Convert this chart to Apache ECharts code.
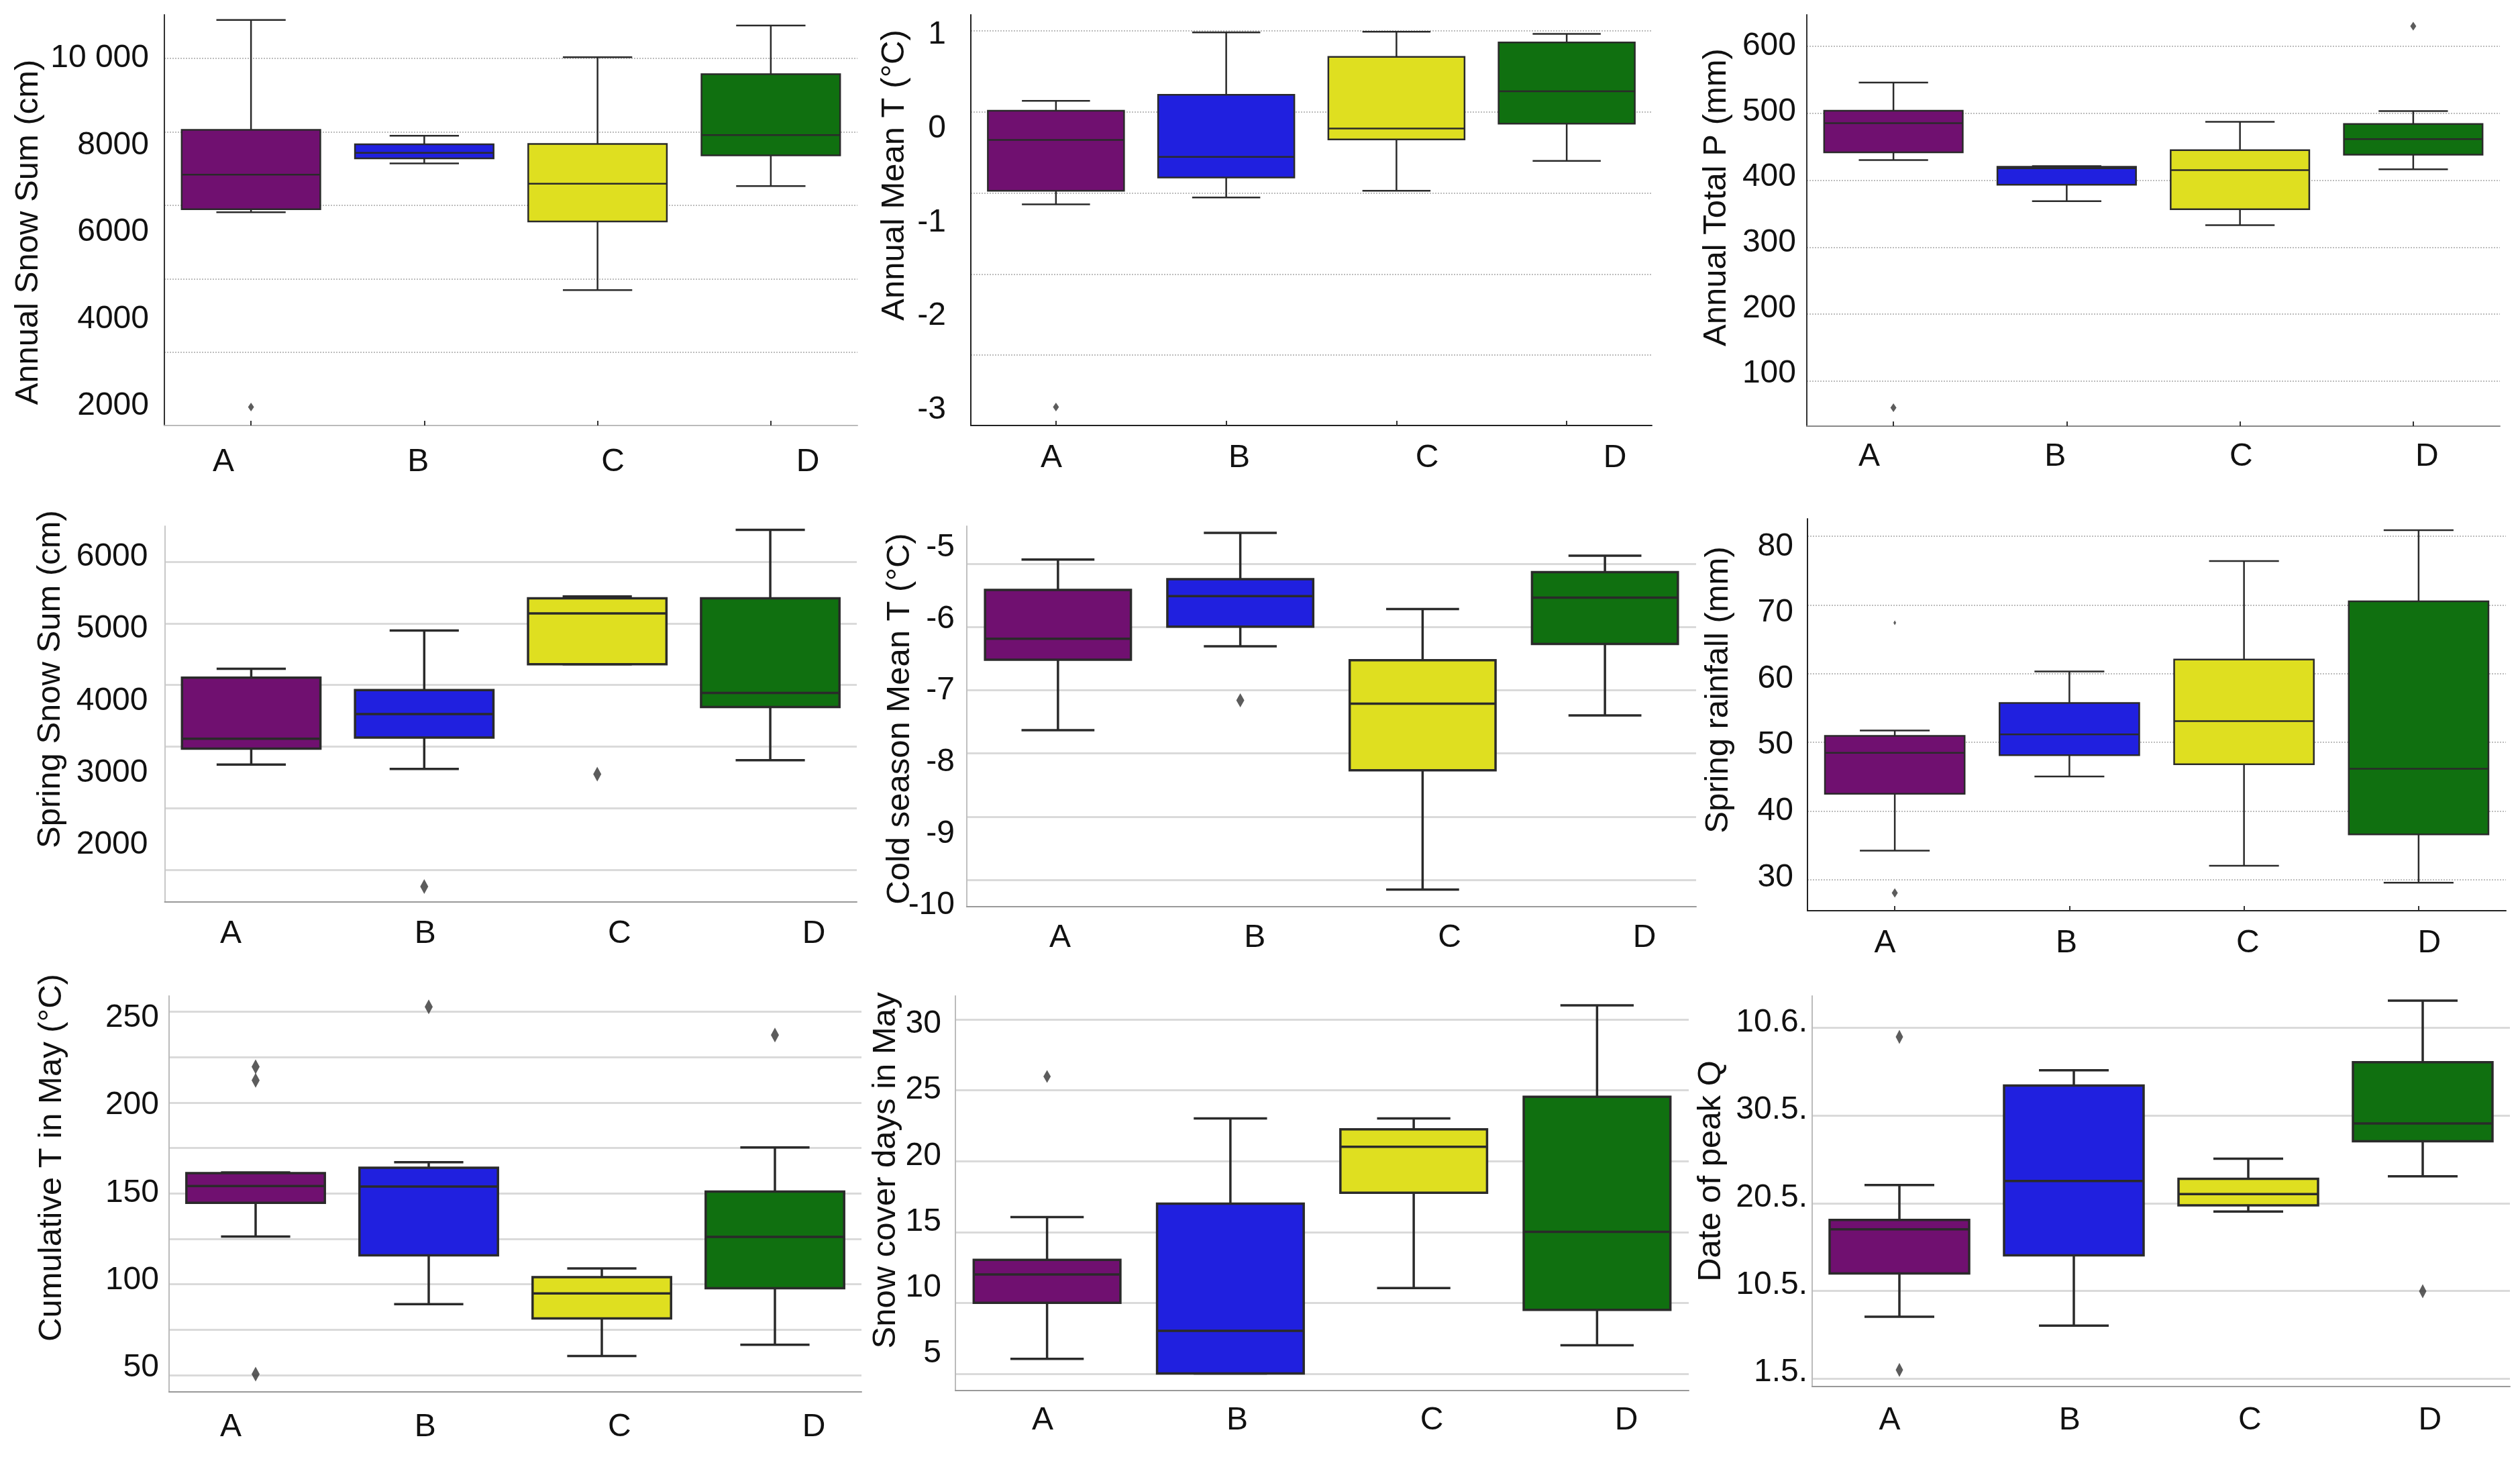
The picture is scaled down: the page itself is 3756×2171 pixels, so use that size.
<!DOCTYPE html>
<html>
<head>
<meta charset="utf-8">
<script src="https://cdn.jsdelivr.net/npm/echarts@6/dist/echarts.min.js"></script>
<style>
html, body { margin: 0; padding: 0; background: #fff; }
#chart { width: 3756px; height: 2171px; }
</style>
</head>
<body>
<div id="chart"></div>
<script>
var categories = ['A', 'B', 'C', 'D'];

// each box: [low whisker, q1, median, q3, high whisker]; outliers: [category index, value]
var snowSumBox = [[6460, 6531, 7324, 8357, 10885], [7586, 7699, 7827, 8025, 8223], [4669, 6248, 7119, 8032, 10028], [7062, 7770, 8237, 9639, 10757]];
var snowSumOut = [[0, 1979]];
var snowSumTicks = [2000, 4000, 6000, 8000, 10000];

var meanTBox = [[-0.807, -0.662, -0.121, 0.19, 0.295], [-0.734, -0.521, -0.302, 0.361, 1.026], [-0.662, -0.115, 0.0, 0.764, 1.033], [-0.344, 0.052, 0.397, 0.918, 1.01]];
var meanTOut = [[0, -2.967]];
var meanTTicks = [-3, -2, -1, 0, 1];

var totalPBox = [[426.3, 438, 482.6, 501.4, 544.6], [363.4, 388.7, 413.7, 416, 417], [326.8, 351.2, 410.8, 441.3, 484.5], [412.2, 434.3, 458.2, 481.2, 501]];
var totalPOut = [[0, 48.4], [3, 630.5]];
var totalPTicks = [100, 200, 300, 400, 500, 600];

var springSnowBox = [[3117, 3339, 3476, 4323, 4447], [3057, 3493, 3818, 4152, 4978], [4511, 4511, 5217, 5427, 5452], [3177, 3917, 4113, 5427, 6376]];
var springSnowOut = [[1, 1423], [2, 2984]];
var springSnowTicks = [2000, 3000, 4000, 5000, 6000];

var coldTBox = [[-7.552, -6.565, -6.272, -5.59, -5.164], [-6.379, -6.103, -5.677, -5.44, -4.793], [-9.78, -8.112, -7.181, -6.573, -5.858], [-7.345, -6.345, -5.698, -5.34, -5.112]];
var coldTOut = [[1, -7.134]];
var coldTTicks = [-10, -9, -8, -7, -6, -5];

var rainBox = [[34.05, 42.65, 48.84, 51.4, 52.19], [45.26, 48.47, 51.63, 56.37, 61.12], [31.77, 47.12, 53.63, 62.93, 77.81], [29.21, 36.51, 46.42, 71.72, 82.47]];
var rainOut = [[0, 27.67]];
var rainTinyOut = [[0, 68.47]];
var rainTicks = [30, 40, 50, 60, 70, 80];

var cumTBox = [[125, 144.3, 153.9, 161.25, 161.6], [86.4, 114.3, 153.6, 164.3, 167.5], [56.8, 78.2, 92.5, 101.8, 106.8], [63.2, 95.5, 124.8, 150.7, 175.9]];
var cumTOut = [[0, 222], [0, 214.3], [0, 46.4], [1, 256.25], [3, 240.2]];
var cumTTicks = [50, 100, 150, 200, 250];

var snowDaysBox = [[4.6, 8.86, 11.0, 12.11, 15.36], [3.5, 3.5, 6.73, 16.37, 22.84], [9.98, 17.2, 20.69, 22.01, 22.84], [5.64, 8.32, 14.24, 24.48, 31.42]];
var snowDaysOut = [[0, 26.02]];
var snowDaysTicks = [5, 10, 15, 20, 25, 30];

// days counted so that the five date ticks sit 10 apart
var peakQBox = [[6.36, 11.32, 16.36, 17.43, 21.43], [5.36, 13.39, 21.89, 32.79, 34.54], [18.39, 19.11, 20.39, 22.14, 24.43], [22.43, 26.43, 28.46, 35.46, 42.5]];
var peakQOut = [[0, 38.36], [0, 0.29], [3, 9.29]];
var peakQTicks = [0, 10, 20, 30, 40];
var peakQLabels = ['1.5.', '10.5.', '20.5.', '30.5.', '10.6.'];

var FONT = "'Liberation Sans', Arial, sans-serif";
var boxColors = ['#701070', '#2020df', '#dfdf20', '#107010'];
var edge = '#2a2a2a';

var panels = [
	{box: snowSumBox, out: snowSumOut, ticks: snowSumTicks, title: 'Annual Snow Sum (cm)',
	 fmt: function(v){ return v == 10000 ? '10 000' : String(v); },
	 min: 1554, max: 11005, rect: [245, 22, 1278, 634], lines: [87, 525, 4], dotted: true, margin: 23,
	 xLab: [333, 1204, 689], titlePos: [42, 346], lw: 2.5, sym: [9, 13], yLine: '#333', xLine: '#bbb', xTicks: true},
	{box: meanTBox, out: meanTOut, ticks: meanTTicks, title: 'Annual Mean T (°C)',
	 min: -3.164, max: 1.213, rect: [1447, 22, 2462, 634], lines: [46, 529, 4], dotted: true, margin: 37,
	 xLab: [1567, 2407, 683], titlePos: [1333, 261], lw: 2.5, sym: [9, 13], yLine: '#222', xLine: '#222', xTicks: true},
	{box: totalPBox, out: totalPOut, ticks: totalPTicks, title: 'Annual Total P (mm)',
	 min: 20.2, max: 647.9, rect: [2693, 22, 3726, 635], lines: [69, 568, 5], dotted: true, margin: 16,
	 xLab: [2802, 3729, 681], titlePos: [2558, 294], lw: 2.5, sym: [9, 13], yLine: '#333', xLine: '#888', xTicks: true},
	{box: springSnowBox, out: springSnowOut, ticks: springSnowTicks, title: 'Spring Snow Sum (cm)',
	 min: 1209, max: 6428, rect: [245.5, 784, 1277, 1344], lines: [837, 1296, 5], dotted: false, margin: 25,
	 xLab: [344, 1213, 1392], titlePos: [75, 1012], lw: 3.5, sym: [12, 22], yLine: '#c8c8c8', xLine: '#999', xTicks: false},
	{box: coldTBox, out: coldTOut, ticks: coldTTicks, title: 'Cold season Mean T (°C)',
	 min: -10.02, max: -4.698, rect: [1441, 784, 2528, 1351], lines: [840, 1311, 5], dotted: false, margin: 18,
	 xLab: [1580, 2451, 1398], titlePos: [1341, 1071], lw: 3.5, sym: [12, 21], yLine: '#c0c0c0', xLine: '#999', xTicks: false},
	{box: rainBox, out: rainOut, tiny: rainTinyOut, ticks: rainTicks, title: 'Spring rainfall (mm)',
	 min: 24.98, max: 84.19, rect: [2694, 773, 3735, 1357], lines: [799, 1311, 5], dotted: true, margin: 21,
	 xLab: [2824, 3722, 1406], titlePos: [2561, 1028], lw: 2.5, sym: [9, 14], yLine: '#222', xLine: '#222', xTicks: true},
	{box: cumTBox, out: cumTOut, ticks: cumTTicks, title: 'Cumulative T in May (°C)',
	 min: 36.25, max: 262.5, rect: [252, 1484, 1284, 2074], lines: [1507.5, 2049, 8], dotted: false, margin: 15,
	 xLab: [344, 1213, 2127], titlePos: [77, 1725], lw: 3.5, sym: [12, 22], yLine: '#bbb', xLine: '#999', xTicks: false},
	{box: snowDaysBox, out: snowDaysOut, ticks: snowDaysTicks, title: 'Snow cover days in May',
	 min: 2.2, max: 32.13, rect: [1424, 1484, 2517, 2072], lines: [1519, 2047, 5], dotted: false, margin: 21,
	 xLab: [1554, 2424, 2117], titlePos: [1320, 1744], lw: 3.5, sym: [11, 19], yLine: '#bbb', xLine: '#999', xTicks: false},
	{box: peakQBox, out: peakQOut, ticks: peakQTicks, title: 'Date of peak Q',
	 fmt: function(v){ return peakQLabels[peakQTicks.indexOf(v)]; },
	 min: -1.61, max: 43.04, rect: [2701, 1484, 3741, 2066], lines: [1531, 2054.5, 4], dotted: false, margin: 7,
	 xLab: [2827, 3696, 2117], titlePos: [2550, 1745], lw: 3.5, sym: [11, 21], yLine: '#bbb', xLine: '#999', xTicks: false}
];

function boxRenderer(lw){
	return function(params, api){
		var i = api.value(0);
		var lo = api.coord([i, api.value(1)]);
		var q1 = api.coord([i, api.value(2)]);
		var md = api.coord([i, api.value(3)]);
		var q3 = api.coord([i, api.value(4)]);
		var hi = api.coord([i, api.value(5)]);
		var bw = api.size([1, 0])[0] * 0.8;
		var x = md[0];
		var ls = {stroke: edge, lineWidth: lw};
		return {
			type: 'group',
			children: [
				{type: 'line', shape: {x1: x, y1: hi[1], x2: x, y2: q3[1]}, style: ls},
				{type: 'line', shape: {x1: x, y1: q1[1], x2: x, y2: lo[1]}, style: ls},
				{type: 'line', shape: {x1: x - bw / 4, y1: hi[1], x2: x + bw / 4, y2: hi[1]}, style: ls},
				{type: 'line', shape: {x1: x - bw / 4, y1: lo[1], x2: x + bw / 4, y2: lo[1]}, style: ls},
				{type: 'rect', shape: {x: x - bw / 2, y: q3[1], width: bw, height: q1[1] - q3[1]},
				 style: {fill: boxColors[i], stroke: edge, lineWidth: lw}},
				{type: 'line', shape: {x1: x - bw / 2, y1: md[1], x2: x + bw / 2, y2: md[1]}, style: ls}
			]
		};
	};
}

var option = {
	animation: false,
	backgroundColor: '#fff',
	grid: [], xAxis: [], yAxis: [], series: [], graphic: []
};

function addPanel(p){
	var gi = option.grid.length;
	var L = p.rect[0], T = p.rect[1], R = p.rect[2], B = p.rect[3];

	// plot area with boxes
	option.grid.push({left: L, top: T, width: R - L, height: B - T});
	option.xAxis.push({
		gridIndex: gi, type: 'category', data: categories, boundaryGap: true,
		axisLine: {show: true, onZero: false, lineStyle: {color: p.xLine, width: 2}},
		axisTick: {show: p.xTicks, inside: true, length: 7, alignWithLabel: true, lineStyle: {color: '#333', width: 2}},
		axisLabel: {show: false}, splitLine: {show: false}
	});
	option.yAxis.push({
		gridIndex: gi, type: 'value', min: p.min, max: p.max,
		axisLine: {show: true, onZero: false, lineStyle: {color: p.yLine, width: 2}},
		axisTick: {show: false}, splitLine: {show: false},
		axisLabel: {customValues: p.ticks, formatter: p.fmt || function(v){ return String(v); },
			fontSize: 48, color: '#111', fontFamily: FONT, margin: p.margin}
	});

	// horizontal grid lines (they do not sit on the tick labels in the figure)
	option.grid.push({left: L, top: p.lines[0], width: R - L, height: p.lines[1] - p.lines[0]});
	option.xAxis.push({gridIndex: gi + 1, type: 'value', show: false, min: 0, max: 1});
	option.yAxis.push({
		gridIndex: gi + 1, type: 'value', min: 0, max: p.lines[2], interval: 1,
		axisLine: {show: false}, axisTick: {show: false}, axisLabel: {show: false},
		splitLine: {show: true, lineStyle: p.dotted ? {type: 'dotted', color: '#bdbdbd', width: 2} : {color: '#dadada', width: 3}}
	});

	// category names
	var s = (p.xLab[1] - p.xLab[0]) / 3;
	option.grid.push({left: p.xLab[0] - s / 2, top: p.xLab[2] - 1, width: 4 * s, height: 1});
	option.xAxis.push({
		gridIndex: gi + 2, type: 'category', data: categories,
		axisLine: {show: false}, axisTick: {show: false},
		axisLabel: {fontSize: 48, color: '#111', fontFamily: FONT, margin: 0, verticalAlign: 'middle'}
	});
	option.yAxis.push({gridIndex: gi + 2, type: 'value', show: false});

	option.series.push({
		type: 'custom', xAxisIndex: gi, yAxisIndex: gi, z: 3,
		renderItem: boxRenderer(p.lw),
		encode: {x: 0, y: [1, 2, 3, 4, 5]},
		data: p.box.map(function(b, i){ return [i].concat(b); })
	});
	option.series.push({
		type: 'scatter', xAxisIndex: gi, yAxisIndex: gi, z: 4,
		symbol: 'diamond', symbolSize: p.sym, itemStyle: {color: '#333'},
		data: p.out
	});
	if(p.tiny){
		option.series.push({
			type: 'scatter', xAxisIndex: gi, yAxisIndex: gi, z: 4,
			symbol: 'diamond', symbolSize: [4, 7], itemStyle: {color: '#333'},
			data: p.tiny
		});
	}

	option.graphic.push({
		type: 'text', x: p.titlePos[0], y: p.titlePos[1], rotation: Math.PI / 2,
		style: {text: p.title, fontSize: 49, fontFamily: FONT, fill: '#111', align: 'center', verticalAlign: 'middle'}
	});
}

for(var k = 0; k < panels.length; k++){
	addPanel(panels[k]);
}

var chart = echarts.init(document.getElementById('chart'));
chart.setOption(option);
</script>
</body>
</html>
